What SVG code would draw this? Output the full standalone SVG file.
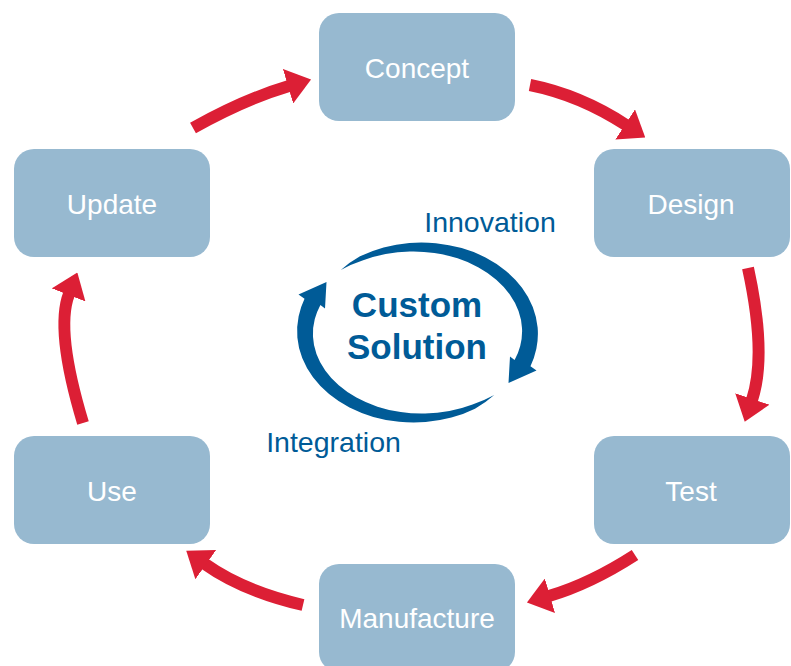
<svg xmlns="http://www.w3.org/2000/svg" width="791" height="666" viewBox="0 0 791 666">
<style>
.box{fill:#97B9D0}
.lbl{font-family:"Liberation Sans",Arial,sans-serif;font-size:28px;fill:#FFFFFF;text-anchor:middle}
.blue{font-family:"Liberation Sans",Arial,sans-serif;font-size:28.5px;fill:#005B97;text-anchor:middle}
.big{font-family:"Liberation Sans",Arial,sans-serif;font-size:35px;font-weight:bold;fill:#005B97;text-anchor:middle}
.red{fill:none;stroke:#DC1F35;stroke-width:12;marker-end:url(#ah)}
</style>
<defs>
<marker id="ah" markerUnits="userSpaceOnUse" viewBox="0 0 24 36" markerWidth="24" markerHeight="36" refX="1" refY="18" orient="auto">
<path d="M0,0 L24,18 L0,36 z" fill="#DC1F35"/>
</marker>
<path id="cyc" fill="#005B97" d="M340.8,270 A113.7,86.7 0 0 1 360.01,256.32 A115.5,88.5 0 0 1 383.58,247.4 A116.4,89.4 0 0 1 409.35,242.94 A117.1,90.1 0 0 1 435.87,243.17 A117.7,90.7 0 0 1 461.71,248.11 A118.3,91.3 0 0 1 485.5,257.5 A118.8,91.8 0 0 1 505.95,270.92 A119.3,92.3 0 0 1 522.01,287.66 A119.7,92.7 0 0 1 532.77,306.89 A120.1,93.1 0 0 1 537.64,327.62 A120.5,93.5 0 0 1 536.36,348.76 A120.8,93.8 0 0 1 530.47,366.19 L536.5,370.5 L508.5,383 L510,356.5 L514.59,360.1 A104.2,77.2 0 0 0 520.22,345.92 A104.5,77.5 0 0 0 522.04,328.44 A104.9,77.9 0 0 0 518.52,310.98 A105.3,78.3 0 0 0 509.78,294.44 A105.7,78.7 0 0 0 496.25,279.66 A106.2,79.2 0 0 0 478.56,267.41 A106.7,79.7 0 0 0 457.57,258.34 A107.3,80.3 0 0 0 434.32,252.93 A107.9,80.9 0 0 0 409.95,251.47 A108.6,81.6 0 0 0 385.63,254.07 A109.5,82.5 0 0 0 362.48,260.6 A111.3,84.3 0 0 0 340.8,270 Z"/>
</defs>
<rect width="791" height="666" fill="#FFFFFF"/>
<g id="connectors">
<path class="red" d="M193,128 Q245,99 289,86"/>
<path class="red" d="M530,85 Q580,95 626,125"/>
<path class="red" d="M748,268 Q767,355 752,400"/>
<path class="red" d="M635,555 Q590,584 549,596"/>
<path class="red" d="M303,605 Q243,591 205,564"/>
<path class="red" d="M83,423 Q55,330 69,294"/>
</g>
<g id="concept"><rect class="box" x="319" y="13" width="196" height="108" rx="20"/><text class="lbl" x="417" y="78">Concept</text></g>
<g id="design"><rect class="box" x="594" y="149" width="196" height="108" rx="20"/><text class="lbl" x="691" y="214">Design</text></g>
<g id="test"><rect class="box" x="594" y="436" width="196" height="108" rx="20"/><text class="lbl" x="691" y="501">Test</text></g>
<g id="manufacture"><rect class="box" x="319" y="564" width="196" height="108" rx="20"/><text class="lbl" x="417" y="628">Manufacture</text></g>
<g id="use"><rect class="box" x="14" y="436" width="196" height="108" rx="20"/><text class="lbl" x="112" y="501">Use</text></g>
<g id="update"><rect class="box" x="14" y="149" width="196" height="108" rx="20"/><text class="lbl" x="112" y="214">Update</text></g>
<g id="center">
<use href="#cyc"/>
<use href="#cyc" transform="rotate(180 417.5 332.5)"/>
<text class="big" x="417" y="317">Custom</text>
<text class="big" x="417" y="359">Solution</text>
<text class="blue" x="490" y="232">Innovation</text>
<text class="blue" x="333.5" y="452">Integration</text>
</g>
</svg>
